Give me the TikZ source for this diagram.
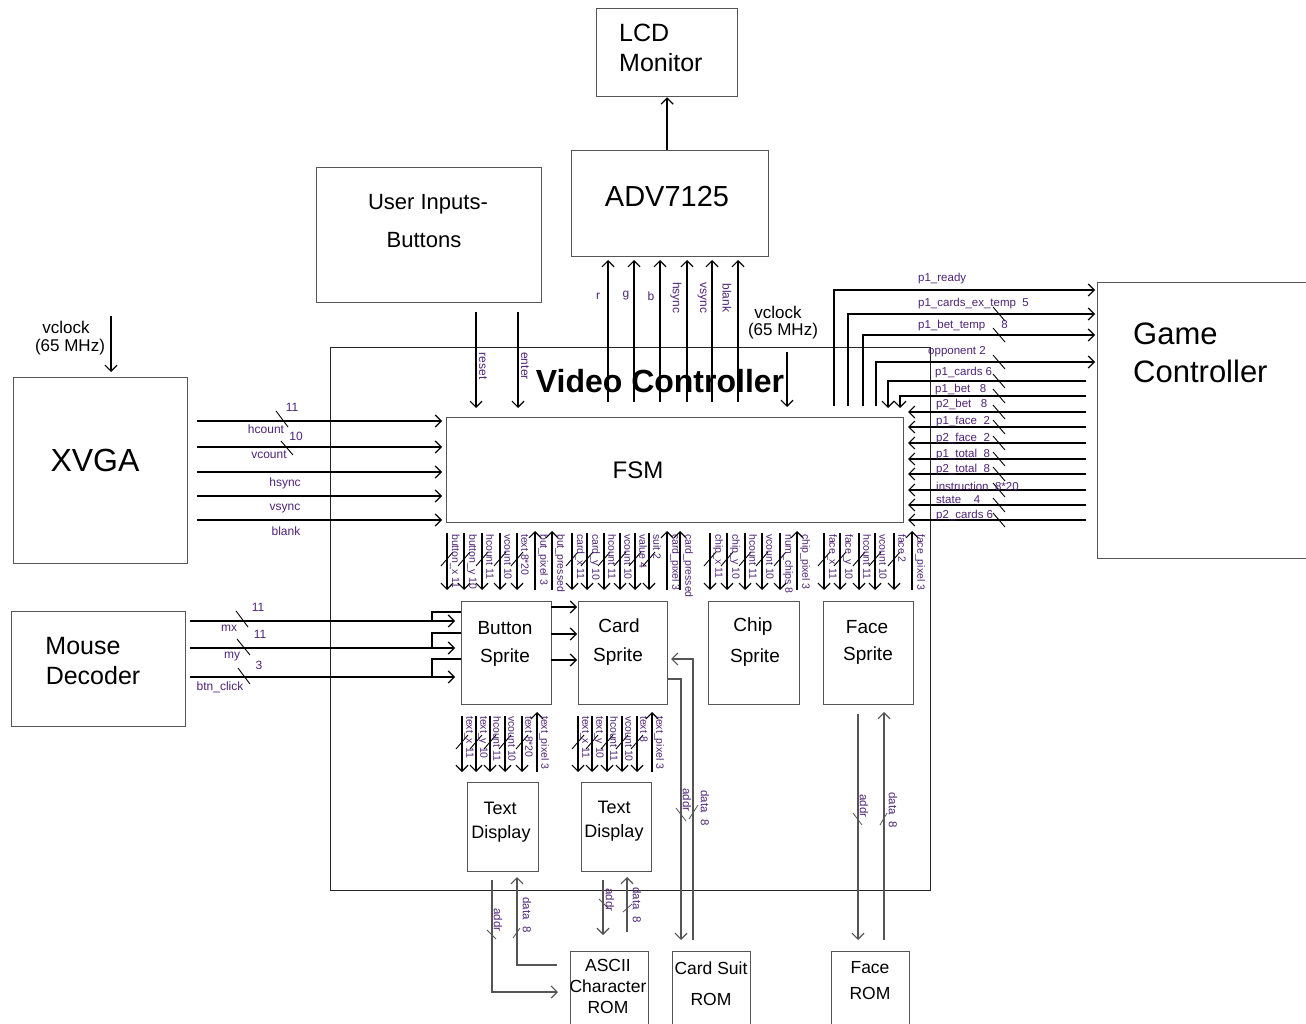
\documentclass[tikz,border=0pt]{standalone}
\usepackage{fontspec}
\setmainfont{Liberation Sans}
\usetikzlibrary{arrows.meta}
\definecolor{labc}{RGB}{80,35,120}
\definecolor{boxc}{RGB}{85,85,85}
\newcommand\fsz[1]{\fontsize{#1}{#1}\selectfont}
\begin{document}
\begin{tikzpicture}[x=1pt,y=-1pt,
  box/.style={draw=boxc,line width=1.3pt,inner sep=0pt,anchor=north west},
  txt/.style={inner sep=0pt,text=black},
  lab/.style={inner sep=0pt,text=labc,font=\fsz{11.5}},
  xlab/.style={inner sep=0pt,text=labc,font=\fsz{12}},
  vlab/.style={inner sep=0pt,text=labc,font=\fsz{10.5},rotate=-90,anchor=west},
  rlab/.style={inner sep=0pt,text=labc,font=\fsz{11.5},rotate=-90},
  sig/.style={line width=1.7pt,black},
  rl/.style={line width=1.2pt,boxc},
  ar/.style={-{Straight Barb[length=6pt,width=12pt,line width=1.2pt]}},
  tk/.style={line width=0.9pt,black}]
\useasboundingbox[fill=white] (0,0) rectangle (1306,1024);

% ---------- boxes ----------
\node[box,minimum width=141pt,minimum height=88pt] (lcd) at (596,8) {};
\node[box,minimum width=197pt,minimum height=106pt] (adv) at (571,150) {};
\node[box,minimum width=225pt,minimum height=135pt] (user) at (316,167) {};
\node[draw=black!85,line width=1.1pt,inner sep=0pt,anchor=north west,minimum width=600pt,minimum height=543pt] (vc) at (330,347) {};
\node[box,minimum width=174pt,minimum height=186pt] (xvga) at (13,377) {};
\node[box,minimum width=230pt,minimum height=276pt] (gc) at (1097,282) {};
\node[box,minimum width=457pt,minimum height=105pt] (fsm) at (446,417) {};
\node[box,minimum width=174pt,minimum height=115pt] (mouse) at (11,611) {};
\node[box,minimum width=90pt,minimum height=103pt] (btn) at (461,601) {};
\node[box,minimum width=89pt,minimum height=103pt] (card) at (578,601) {};
\node[box,minimum width=91pt,minimum height=103pt] (chip) at (708,601) {};
\node[box,minimum width=90pt,minimum height=103pt] (face) at (823,601) {};
\node[box,minimum width=71pt,minimum height=89pt] (tda) at (467,782) {};
\node[box,minimum width=70pt,minimum height=89pt] (tdb) at (581,782) {};
\node[box,minimum width=78pt,minimum height=80pt] (ascii) at (570,951) {};
\node[box,minimum width=78pt,minimum height=80pt] (cardrom) at (672,951) {};
\node[box,minimum width=78pt,minimum height=80pt] (facerom) at (831,951) {};

% ---------- box texts ----------
\node[txt,anchor=west,font=\fsz{25}] (lcdt1) at (619,33) {LCD};
\node[txt,anchor=west,font=\fsz{25}] (lcdt2) at (619,63) {Monitor};
\node[txt,font=\fsz{29}] (advt) at (667,197) {ADV7125};
\node[txt,font=\fsz{22}] (usert1) at (428,204) {User Inputs-};
\node[txt,font=\fsz{22}] (usert2) at (424,240) {Buttons};
\node[txt,font=\fsz{32}\bfseries] (vct) at (660,381) {Video Controller};
\node[txt,font=\fsz{32}] (xvgat) at (95,460) {XVGA};
\node[txt,anchor=west,font=\fsz{31}] (gct1) at (1133,334) {Game};
\node[txt,anchor=west,font=\fsz{31}] (gct2) at (1133,371) {Controller};
\node[txt,font=\fsz{24}] (fsmt) at (638,470) {FSM};
\node[txt,font=\fsz{25}] (mt1) at (83,646) {Mouse};
\node[txt,font=\fsz{25}] (mt2) at (93,676) {Decoder};
\node[txt,font=\fsz{19}] (bt1) at (505,628) {Button};
\node[txt,font=\fsz{19}] (bt2) at (505,658) {Sprite};
\node[txt,font=\fsz{19}] (ct1) at (619,626) {Card};
\node[txt,font=\fsz{19}] (ct2) at (618,657) {Sprite};
\node[txt,font=\fsz{19}] (cht1) at (753,627) {Chip};
\node[txt,font=\fsz{19}] (cht2) at (755,658) {Sprite};
\node[txt,font=\fsz{19}] (ft1) at (867,627) {Face};
\node[txt,font=\fsz{19}] (ft2) at (868,656) {Sprite};
\node[txt,font=\fsz{18}] (tat1) at (500,808) {Text};
\node[txt,font=\fsz{18}] (tat2) at (501,834) {Display};
\node[txt,font=\fsz{18}] (tbt1) at (614,807) {Text};
\node[txt,font=\fsz{18}] (tbt2) at (614,833) {Display};
\node[txt,font=\fsz{17.5}] (at1) at (608,965) {ASCII};
\node[txt,font=\fsz{17.5}] (at2) at (608,986) {Character};
\node[txt,font=\fsz{17.5}] (at3) at (608,1007) {ROM};
\node[txt,font=\fsz{17.5}] (crt1) at (711,968) {Card Suit};
\node[txt,font=\fsz{17.5}] (crt2) at (711,999) {ROM};
\node[txt,font=\fsz{17.5}] (frt1) at (870,968) {Face};
\node[txt,font=\fsz{17.5}] (frt2) at (870,993) {ROM};

% ---------- ADV / LCD ----------
\draw[sig,ar] (adv.north -| lcd.south) -- (lcd.south);
\foreach \x in {608,634,660,687,712,738} \draw[sig,ar] (\x,402) -- (\x,260);
\node[xlab] (lr) at (598,296) {r};
\node[xlab] (lg) at (626,296) {g};
\node[xlab] (lb) at (651,296) {b};
\node[rlab,font=\fsz{12}] (lhs) at (676,298) {hsync};
\node[rlab,font=\fsz{12}] (lvs) at (702,298) {vsync};
\node[rlab,font=\fsz{12}] (lbl) at (727,298) {blank};

% ---------- vclocks ----------
\node[txt,font=\fsz{17}] (vcr1) at (778,312) {vclock};
\node[txt,font=\fsz{17}] (vcr2) at (783,331) {(65 MHz)};
\draw[sig,ar,line width=1.3pt] (787,352) -- (787,407);
\node[txt,font=\fsz{17}] (vcl1) at (66,327) {vclock};
\node[txt,font=\fsz{17}] (vcl2) at (70,347) {(65 MHz)};
\draw[sig,ar,line width=1.3pt] (111,316) -- (111,372);

% ---------- user inputs ----------
\draw[sig,ar] (476,312) -- (476,408);
\draw[sig,ar] (518,312) -- (518,408);
\node[rlab,font=\fsz{12}] (lreset) at (483,366) {reset};
\node[rlab,font=\fsz{12}] (lenter) at (525,366) {enter};

% ---------- XVGA -> FSM ----------
\foreach \y in {421,447,472,496,520} \draw[sig,ar] (197,\y) -- (442,\y);
\node[xlab] (lhc) at (266,429) {hcount};
\node[xlab] (lvc) at (269,455) {vcount};
\node[xlab] (lhs2) at (285,483) {hsync};
\node[xlab] (lvs2) at (285,509) {vsync};
\node[xlab] (lbl2) at (286,531) {blank};
\node[xlab] (n11) at (292,407) {11};
\node[xlab] (n10) at (296,436) {10};
\draw[tk] (276,411) -- (288,427);
\draw[tk] (281,441) -- (293,455);

% ---------- FSM <-> Game Controller ----------
\draw[sig,ar] (834,406) |- (1095,290);
\draw[sig,ar] (848,406) |- (1095,314);
\draw[sig,ar] (863,406) |- (1095,335);
\draw[sig,ar] (876,406) |- (1095,362);
\draw[sig,ar] (1086,381) -| (888,408);
\draw[sig,ar] (1086,396) -| (900,408);
\foreach \y in {412,427,443,459,474,490,505,520} \draw[sig,ar] (1086,\y) -- (908,\y);
\foreach \y in {314,335,362,381,396,412,427,443,459,474,490,505,520} \draw[tk] (993,\y-7) -- (1005,\y+7);
\node[lab,anchor=west] (g1) at (918,279) {p1\_ready};
\node[lab,anchor=west] (g2) at (918,304) {p1\_cards\_ex\_temp~~5};
\node[lab,anchor=west] (g3) at (918,326) {p1\_bet\_temp~~~~~8};
\node[lab,anchor=west] (g4) at (928,352) {opponent 2};
\node[lab,anchor=west] (g5) at (935,373) {p1\_cards 6};
\node[lab,anchor=west] (g6) at (935,390) {p1\_bet~~~8};
\node[lab,anchor=west] (g7) at (936,405) {p2\_bet~~~8};
\node[lab,anchor=west] (g8) at (936,422) {p1\_face~~2};
\node[lab,anchor=west] (g9) at (936,439) {p2\_face~~2};
\node[lab,anchor=west] (g10) at (936,455) {p1\_total~~8};
\node[lab,anchor=west] (g11) at (936,470) {p2\_total~~8};
\node[lab,anchor=west] (g12) at (936,486) {instruction~~8*20};
\node[lab,anchor=west] (g13) at (936,500) {state~~~~4};
\node[lab,anchor=west] (g14) at (936,516) {p2\_cards 6};

% ---------- FSM -> sprites ----------
\foreach \x/\t in {447/button\_x 11,464/button\_y 10,482/hcount 11,500/vcount 10,517/text 8*20,
  572/card\_x 11,587/card\_y 10,604/hcount 11,620/vcount 10,635/value 4,649/suit 2,
  710/chip\_x 11,727/chip\_y 10,745/hcount 11,762/vcount 10,780/num\_chips 8,
  824/face\_x 11,840/face\_y 10,859/hcount 11,875/vcount 10,894/face 2}
{ \draw[sig,ar] (\x,533) -- (\x,590);
  \draw[tk] (\x-6,566) -- (\x+6,552);
  \node[vlab] (fl\x) at (\x+8,534) {\t}; }
\foreach \x/\t in {535/but\_pixel 3,552/but\_pressed,667/card\_pixel 3,680/card\_pressed,797/chip\_pixel 3,912/face\_pixel 3}
{ \draw[sig,ar] (\x,590) -- (\x,531);
  \node[vlab] (fu\x) at (\x+8,534) {\t}; }

% ---------- mouse -> button sprite ----------
\foreach \y/\b in {621/612,648/633,677/659}
{ \draw[sig,ar] (190,\y) -- (455,\y);
  \draw[sig,line width=1.3pt] (432,\y) |- (461,\b); }
\node[xlab] (lmx) at (229,628) {mx};
\node[xlab] (lmy) at (232,657) {my};
\node[xlab] (lbc) at (220,687) {btn\_click};
\node[xlab] (m1) at (258,607) {11};
\node[xlab] (m2) at (260,634) {11};
\node[xlab] (m3) at (259,665) {3};
\draw[tk] (236,611) -- (248,627);
\draw[tk] (237,639) -- (250,655);
\draw[tk] (238,668) -- (250,684);

% ---------- button sprite -> card sprite ----------
\foreach \y in {607,634,660} \draw[sig,ar] (551,\y) -- (577,\y);

% ---------- sprites -> text displays ----------
\foreach \x/\t in {462/text\_x 11,476/text\_y 10,490/hcount 11,505/vcount 10,522/text 8*20,
  578/text\_x 11,592/text\_y 10,607/hcount 11,622/vcount 10,637/text 8}
{ \draw[sig,ar] (\x,716) -- (\x,772);
  \draw[tk] (\x-6,749) -- (\x+6,735);
  \node[vlab] (tl\x) at (\x+7,716) {\t}; }
\foreach \x in {537,652}
{ \draw[sig,ar] (\x,772) -- (\x,712);
  \node[vlab] (tu\x) at (\x+7,716) {text\_pixel 3}; }

% ---------- card sprite <-> card suit ROM ----------
\draw[rl,ar] (667,679) -| (681,940);
\draw[rl,ar] (693,940) |- (671,659);
\draw[rl,line width=0.8pt] (676,808) -- (686,821);
\draw[rl,line width=0.8pt] (689,819) -- (698,805);
\node[rlab] (ca) at (687,800) {addr};
\node[rlab] (cd) at (705,808) {data~~8};

% ---------- face sprite <-> face ROM ----------
\draw[rl,ar] (858,714) -- (858,940);
\draw[rl,ar] (884,940) -- (884,712);
\draw[rl,line width=0.8pt] (853,813) -- (862,825);
\draw[rl,line width=0.8pt] (880,825) -- (887,813);
\node[rlab] (fa) at (864,806) {addr};
\node[rlab] (fd) at (893,810) {data~~8};

% ---------- text displays <-> ASCII ROM ----------
\draw[rl,ar] (492,880) |- (558,992);
\draw[rl,ar] (557,965) -| (517,877);
\draw[rl,line width=0.8pt] (487,930) -- (496,939);
\draw[rl,line width=0.8pt] (513,938) -- (520,928);
\node[rlab] (aa) at (498,920) {addr};
\node[rlab] (ad) at (527,915) {data~~8};
\draw[rl,ar] (603,880) -- (603,935);
\draw[rl,ar] (627,932) -- (627,877);
\draw[rl,line width=0.8pt] (599,899) -- (608,908);
\draw[rl,line width=0.8pt] (623,912) -- (632,904);
\node[rlab] (ba) at (610,900) {addr};
\node[rlab] (bd) at (637,905) {data~~8};
\end{tikzpicture}
\end{document}
